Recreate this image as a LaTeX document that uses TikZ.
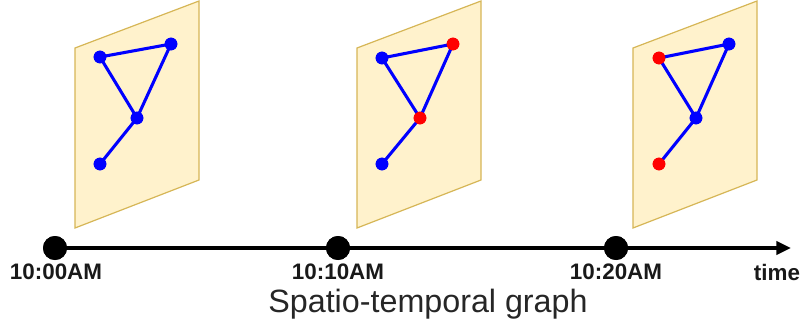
\documentclass[tikz,border=0pt]{standalone}
\usepackage{fontspec}
\setmainfont{Liberation Sans}
\usetikzlibrary{arrows.meta}
\definecolor{planefill}{HTML}{FFF2CC}
\definecolor{planeline}{HTML}{D6B656}
\tikzset{
  plane/.style={fill=planefill,draw=planeline,line width=0.9pt},
  bv/.style={circle,fill=blue,inner sep=0pt,minimum size=9.5pt},
  rv/.style={circle,fill=red,inner sep=0pt,minimum size=9.5pt},
  gedge/.style={draw=blue,line width=2.3pt},
  tdot/.style={circle,fill=black,inner sep=0pt,minimum size=18pt},
  tlabel/.style={font=\bfseries\fontsize{16.8}{19}\selectfont,text=black!90},
  axis/.style={line width=2.4pt,-{Triangle[length=11pt,width=10pt]}}
}
\begin{document}
\begin{tikzpicture}[x=0.75pt,y=-0.75pt]
\useasboundingbox (0,0) rectangle (802,331);
% planes
\foreach \ox in {75,357,633}{
  \draw[plane] (\ox,48) -- (\ox+124,1) -- (\ox+124,180) -- (\ox,228) -- cycle;
}
% graph 1
\node[bv] (a1) at (100,57) {};
\node[bv] (a2) at (171,44) {};
\node[bv] (a3) at (137,118) {};
\node[bv] (a4) at (100,164) {};
% graph 2
\node[bv] (b1) at (382,58) {};
\node[rv] (b2) at (453,44) {};
\node[rv] (b3) at (420,118) {};
\node[bv] (b4) at (382,164) {};
% graph 3
\node[rv] (c1) at (659,58) {};
\node[bv] (c2) at (729,44) {};
\node[bv] (c3) at (696,118) {};
\node[rv] (c4) at (659,164) {};
\foreach \g in {a,b,c}{
  \draw[gedge] (\g1.center) -- (\g2.center);
  \draw[gedge] (\g1.center) -- (\g3.center);
  \draw[gedge] (\g2.center) -- (\g3.center);
  \draw[gedge] (\g3.center) -- (\g4.center);
}
% redraw vertices on top
\node[bv] at (a1) {};\node[bv] at (a2) {};\node[bv] at (a3) {};\node[bv] at (a4) {};
\node[bv] at (b1) {};\node[rv] at (b2) {};\node[rv] at (b3) {};\node[bv] at (b4) {};
\node[rv] at (c1) {};\node[bv] at (c2) {};\node[bv] at (c3) {};\node[rv] at (c4) {};
% timeline
\coordinate (tend) at (791,248);
\node[tdot] (t0) at (55,248) {};
\node[tdot] (t1) at (338,248) {};
\node[tdot] (t2) at (616,248) {};
\draw[axis] (t0.center) -- (tend);
\node[tdot] at (t0) {};
\node[tdot] at (t1) {};
\node[tdot] at (t2) {};
\node[tlabel] (l0) at (56,272) {10:00AM};
\node[tlabel] (l1) at (338,272) {10:10AM};
\node[tlabel] (l2) at (616,272) {10:20AM};
\node[tlabel] (lt) at (777,272) {time};
\node[font=\fontsize{24.2}{28}\selectfont,text=black!85] (title) at (428,304) {Spatio-temporal graph};
\end{tikzpicture}
\end{document}
